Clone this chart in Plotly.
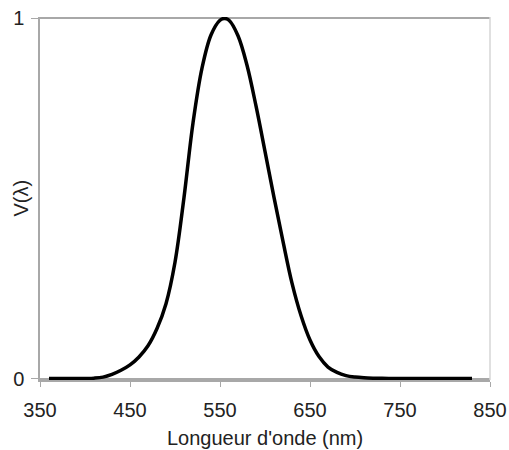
import plotly.graph_objects as go

wavelength_nm = [360, 370, 380, 390, 400, 410, 420, 430, 440, 450, 460, 470, 480, 490,
                 500, 510, 520, 530, 540, 550, 555, 560, 570, 580, 590, 600, 610, 620,
                 630, 640, 650, 660, 670, 680, 690, 700, 710, 720, 730, 740, 750, 760,
                 770, 780, 790, 800, 810, 820, 830]
v_lambda = [0.000004, 0.000012, 0.00004, 0.00012, 0.0004, 0.0012, 0.004, 0.0116, 0.023,
            0.038, 0.060, 0.091, 0.139, 0.208, 0.323, 0.503, 0.710, 0.862, 0.954, 0.995,
            1.000, 0.995, 0.952, 0.870, 0.757, 0.631, 0.503, 0.381, 0.265, 0.175, 0.107,
            0.061, 0.032, 0.017, 0.0082, 0.0041, 0.0021, 0.00105, 0.00052, 0.00025,
            0.00012, 0.00006, 0.00003, 0.000015, 0.000007, 0.000004, 0.000002,
            0.000001, 0.0000005]
x_ticks = [350, 450, 550, 650, 750, 850]
y_ticks = [0, 1]
x_title = "Longueur d'onde (nm)"
y_title = "V(λ)"

fig = go.Figure()
fig.add_trace(go.Scatter(x=wavelength_nm, y=v_lambda, mode="lines",
                         line=dict(color="black", width=3.5, shape="spline"),
                         showlegend=False, hoverinfo="skip"))

fam = "Liberation Sans, Arial, sans-serif"
tick_font = dict(family=fam, size=20, color="#222222")
title_font = dict(family=fam, size=20, color="#222222")
axis_gray = "#a8a8a8"

fig.update_layout(
    width=509, height=450,
    margin=dict(l=40, r=19, t=17, b=70),
    paper_bgcolor="white", plot_bgcolor="white",
    font=title_font,
    xaxis=dict(range=[350, 850], tickvals=x_ticks, ticks="outside", ticklen=5,
               tickcolor=axis_gray, showline=True, linecolor=axis_gray, linewidth=1.5,
               showgrid=False, zeroline=False, automargin=False,
               tickfont=tick_font, ticklabelstandoff=6),
    yaxis=dict(range=[-0.004, 1.004], tickvals=y_ticks, ticks="outside", ticklen=7,
               tickcolor=axis_gray, showline=True, linecolor=axis_gray, linewidth=1.5,
               showgrid=True, gridcolor=axis_gray, gridwidth=1.5, zeroline=False,
               automargin=False, tickfont=tick_font, ticklabelstandoff=3),
    shapes=[dict(type="line", xref="paper", yref="paper", x0=1, x1=1, y0=0, y1=1,
                 line=dict(color="#d6d6d6", width=1.5))],
    annotations=[
        dict(text=x_title, xref="paper", yref="paper", x=0.5, y=0, yshift=-58,
             xanchor="center", yanchor="middle", showarrow=False, font=title_font),
        dict(text=y_title, xref="paper", yref="paper", x=0, y=0.5, xshift=-20,
             xanchor="center", yanchor="middle", showarrow=False, textangle=-90,
             font=title_font),
    ],
)

fig.write_html("out.html", config={"displayModeBar": False},
               post_script="document.body.style.margin='0';")
